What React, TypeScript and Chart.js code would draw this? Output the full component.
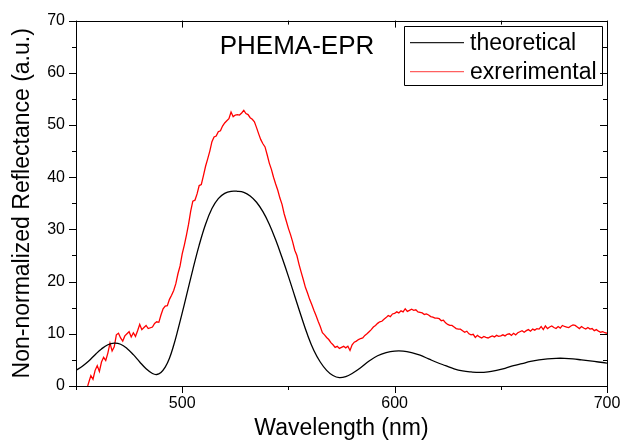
import React, { useEffect, useRef } from "react";
import { Chart, registerables } from "chart.js";

Chart.register(...registerables);

const FONT = "'Liberation Sans', Arial, sans-serif";

const chartTitle = "PHEMA-EPR";
const xTitle = "Wavelength (nm)";
const yTitle = "Non-normalized Reflectance (a.u.)";
const seriesNames = ["theoretical", "exrerimental"];
const seriesColors = ["#000000", "#ff0000"];
const legendLineColors = ["#222222", "#ff6060"];

const xMin = 450;
const xMax = 700;
const yMin = 0;
const yMax = 70;
const xMajorTicks = [500, 600, 700];
const yMajorTicks = [0, 10, 20, 30, 40, 50, 60, 70];

const theoWl = [
  450, 453, 456, 459, 462, 465, 468, 471, 474, 477, 480, 483, 486, 488, 490, 492, 494, 496, 498, 500,
  502, 505, 508, 511, 514, 517, 520, 523, 526, 529, 532, 535, 538, 541, 544, 547, 550, 553, 556, 559,
  562, 565, 568, 571, 574, 577, 580, 584, 588, 592, 596, 600, 604, 608, 612, 616, 620, 624, 628, 632,
  636, 640, 644, 648, 652, 656, 660, 664, 668, 672, 676, 680, 684, 688, 692, 696, 700,
];
const theoVal = [
  3.0, 3.8, 4.8, 6.0, 7.1, 7.9, 8.2, 8.0, 7.2, 6.0, 4.6, 3.3, 2.4, 2.2, 2.6, 3.6, 5.3, 7.8, 10.8, 14.0,
  17.3, 22.3, 27.0, 31.0, 34.0, 35.9, 36.9, 37.3, 37.3, 37.1, 36.4, 35.2, 33.4, 31.0, 28.0, 24.6, 21.0, 17.2, 13.4, 9.8,
  6.8, 4.6, 3.0, 2.0, 1.6, 1.8, 2.4, 3.5, 4.8, 5.8, 6.4, 6.7, 6.7, 6.4, 5.9, 5.2, 4.5, 3.9, 3.3, 2.9,
  2.7, 2.6, 2.7, 3.0, 3.4, 3.9, 4.3, 4.7, 5.0, 5.2, 5.3, 5.3, 5.2, 5.0, 4.8, 4.6, 4.4,
];

const expWl = [
  455.5, 457, 458, 459, 460, 461, 462, 463, 464, 465, 466, 467, 468, 469, 470, 471, 472, 473, 474, 475,
  476, 477, 478, 479, 480, 481, 482, 483, 484, 486, 487, 488, 489, 490, 491, 492, 493, 494, 495, 496,
  497, 498, 499, 500, 501, 502, 503, 504, 505, 506, 507, 508, 509, 510, 511, 512, 513, 514, 515, 516,
  517, 518, 519, 520, 521, 522, 523, 524, 525, 526, 527, 528, 529, 530, 531, 532, 533, 534, 535, 536,
  537, 538, 539, 540, 541, 542, 543, 544, 545, 546, 547, 548, 549, 550, 551, 552, 553, 554, 555, 556,
  557, 558, 559, 560, 561, 562, 563, 564, 565, 566, 567, 568, 569, 570, 571, 572, 573, 574, 575, 576,
  577, 578, 579, 580, 581, 582, 583, 584, 585, 586, 587, 588, 589, 590, 591, 592, 593, 594, 595, 596,
  597, 598, 599, 600, 601, 602, 603, 604, 605, 606, 607, 608, 609, 610, 611, 612, 613, 614, 615, 616,
  617, 618, 619, 620, 621, 622, 623, 624, 625, 626, 627, 628, 629, 630, 631, 632, 633, 634, 635, 636,
  637, 638, 639, 640, 641, 642, 643, 644, 645, 646, 647, 648, 649, 650, 651, 652, 653, 654, 655, 656,
  657, 658, 659, 660, 661, 662, 663, 664, 665, 666, 667, 668, 669, 670, 671, 672, 673, 674, 675, 676,
  677, 678, 679, 680, 681, 682, 683, 684, 685, 686, 687, 688, 689, 690, 691, 692, 693, 694, 695, 696,
  697, 698, 699, 700,
];
const expVal = [
  0, 2.0, 1.3, 3.0, 3.9, 2.8, 4.6, 5.5, 4.9, 6.3, 8.2, 6.7, 7.5, 9.8, 10.1, 9.2, 8.6, 9.6, 10.0, 10.4,
  9.4, 10.2, 9.5, 10.6, 11.8, 10.8, 11.2, 11.6, 11.0, 11.3, 12.0, 12.3, 12.2, 13.6, 14.8, 15.3, 15.4, 16.6, 17.4, 18.3,
  19.6, 21.5, 23.0, 25.3, 27.0, 28.9, 31.0, 33.5, 35.4, 35.6, 36.8, 38.4, 38.6, 40.3, 42.1, 43.5, 45.0, 46.8, 47.7, 47.9,
  48.7, 48.9, 49.8, 50.4, 50.8, 51.2, 52.5, 51.6, 51.9, 52.0, 51.9, 52.3, 52.8, 52.2, 52.0, 51.4, 51.1, 50.6, 49.5, 48.3,
  47.2, 46.4, 45.8, 44.3, 42.7, 41.5, 40.0, 38.7, 37.5, 36.0, 34.8, 33.0, 31.6, 30.2, 29.0, 27.6, 26.0, 25.0, 23.3, 21.8,
  20.4, 18.9, 17.8, 16.6, 15.6, 14.5, 13.5, 12.4, 11.4, 10.2, 9.8, 9.3, 8.9, 8.3, 7.9, 7.4, 7.6, 7.2, 7.4, 7.6,
  7.3, 7.6, 6.8, 7.9, 8.4, 8.6, 8.9, 9.1, 9.2, 9.7, 10.0, 10.4, 10.8, 11.3, 11.6, 12.0, 12.3, 12.4, 12.8, 13.1,
  13.5, 13.3, 13.8, 13.9, 14.2, 14.0, 14.4, 14.2, 14.8, 14.3, 14.5, 14.7, 14.5, 14.6, 14.2, 14.1, 14.0, 13.7, 13.8, 13.6,
  13.3, 13.2, 13.0, 13.0, 12.9, 12.5, 12.6, 12.1, 11.8, 11.6, 11.6, 11.3, 11.0, 10.9, 10.9, 10.6, 10.3, 10.5, 10.0, 9.8,
  9.9, 9.3, 9.7, 9.4, 9.2, 9.5, 9.3, 9.2, 9.4, 9.6, 9.4, 9.7, 9.5, 9.6, 9.8, 9.6, 9.9, 10.0, 9.7, 10.1,
  9.8, 10.2, 10.4, 10.6, 10.3, 10.6, 10.8, 10.5, 10.9, 10.7, 11.0, 10.9, 11.4, 10.8, 11.5, 11.0, 11.3, 11.5, 11.2, 11.0,
  11.4, 11.1, 11.6, 11.4, 11.3, 11.2, 11.5, 11.7, 11.6, 11.3, 11.0, 11.4, 11.1, 10.9, 11.2, 10.9, 11.0, 10.6, 10.8, 10.5,
  10.3, 10.4, 10.2, 10.1,
];

const framePlugin = {
  id: "framePlugin",
  afterDraw(chart: any) {
    const { ctx, chartArea } = chart;
    const xs = chart.scales.x;
    const ys = chart.scales.y;
    const { left, right, top, bottom } = chartArea;
    ctx.save();
    ctx.strokeStyle = "#000";
    ctx.lineWidth = 1;
    ctx.beginPath();
    ctx.rect(Math.round(left) + 0.5, Math.round(top) + 0.5, Math.round(right - left), Math.round(bottom - top));
    ctx.stroke();
    for (let v = xMin; v <= xMax; v += 50) {
      const major = xMajorTicks.includes(v);
      const len = major ? 7 : 4;
      const px = Math.round(xs.getPixelForValue(v)) + 0.5;
      ctx.beginPath();
      ctx.moveTo(px, bottom);
      ctx.lineTo(px, bottom + len);
      ctx.moveTo(px, top);
      ctx.lineTo(px, top + len);
      ctx.stroke();
    }
    for (let v = yMin; v <= yMax; v += 5) {
      const major = yMajorTicks.includes(v);
      const len = major ? 7 : 4;
      const py = Math.round(ys.getPixelForValue(v)) + 0.5;
      ctx.beginPath();
      ctx.moveTo(left, py);
      ctx.lineTo(left - len, py);
      ctx.moveTo(right, py);
      ctx.lineTo(right - len, py);
      ctx.stroke();
    }
    ctx.fillStyle = "#000";
    ctx.font = `26px ${FONT}`;
    ctx.textAlign = "center";
    ctx.textBaseline = "middle";
    ctx.fillText(chartTitle, left + 221, top + 26);
    const bx = right - 203;
    const by = top + 5;
    const bw = 198;
    const bh = 59;
    ctx.beginPath();
    ctx.rect(Math.round(bx) + 0.5, Math.round(by) + 0.5, bw, bh);
    ctx.stroke();
    ctx.font = `23px ${FONT}`;
    ctx.textAlign = "left";
    chart.data.datasets.forEach((ds: any, i: number) => {
      const ly = by + 17 + i * 29;
      ctx.strokeStyle = legendLineColors[i];
      ctx.lineWidth = 1.3;
      ctx.beginPath();
      ctx.moveTo(bx + 6, ly);
      ctx.lineTo(bx + 60, ly);
      ctx.stroke();
      ctx.fillStyle = "#000";
      ctx.fillText(ds.label, bx + 66, ly + 1);
    });
    ctx.restore();
  },
};

export default function App() {
  const ref = useRef<HTMLCanvasElement>(null);
  useEffect(() => {
    document.body.style.margin = "0";
    const theo = theoWl.map((x, i) => ({ x, y: theoVal[i] }));
    const exp = expWl.map((x, i) => ({ x, y: expVal[i] }));
    const chart = new Chart(ref.current as HTMLCanvasElement, {
      type: "line",
      data: {
        datasets: [
          {
            label: seriesNames[0],
            data: theo,
            borderColor: seriesColors[0],
            borderWidth: 1.3,
            pointRadius: 0,
            tension: 0.4,
          },
          {
            label: seriesNames[1],
            data: exp,
            borderColor: seriesColors[1],
            borderWidth: 1.3,
            pointRadius: 0,
            tension: 0,
          },
        ],
      },
      options: {
        animation: false,
        responsive: false,
        layout: { padding: { top: 10, right: 23, left: 0, bottom: 0 } },
        plugins: { legend: { display: false }, tooltip: { enabled: false } },
        scales: {
          x: {
            type: "linear",
            min: xMin,
            max: xMax,
            grid: { display: false, drawTicks: false },
            border: { display: false },
            ticks: {
              stepSize: 50,
              padding: 8,
              color: "#000",
              font: { family: FONT, size: 16 },
              maxRotation: 0,
              callback: (v: any) => (xMajorTicks.includes(Number(v)) ? String(v) : ""),
            },
            title: {
              display: true,
              text: xTitle,
              color: "#000",
              font: { family: FONT, size: 23 },
              padding: { top: 0, bottom: 2 },
            },
            afterFit: (s: any) => {
              s.height = 58;
            },
          },
          y: {
            min: yMin,
            max: yMax,
            grid: { display: false, drawTicks: false },
            border: { display: false },
            ticks: {
              stepSize: 5,
              padding: 11,
              color: "#000",
              font: { family: FONT, size: 16 },
              callback: (v: any) => (yMajorTicks.includes(Number(v)) ? String(v) : ""),
            },
            title: {
              display: true,
              text: yTitle,
              color: "#000",
              font: { family: FONT, size: 23 },
              padding: { top: 9, bottom: 0 },
            },
            afterFit: (s: any) => {
              s.width = 76;
            },
          },
        },
      },
      plugins: [framePlugin],
    });
    return () => chart.destroy();
  }, []);
  return <canvas ref={ref} width={630} height={444} style={{ display: "block" }} />;
}
